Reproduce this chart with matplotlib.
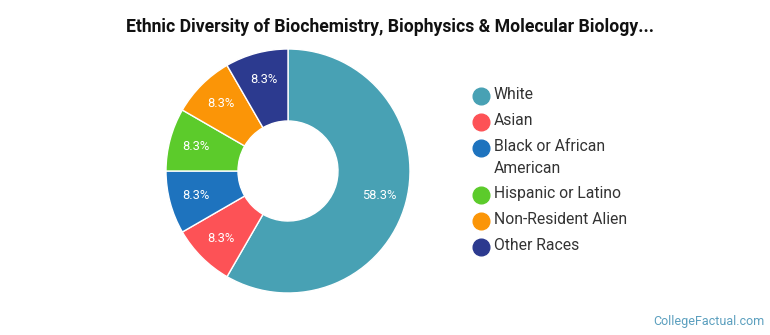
import matplotlib
matplotlib.use('Agg')
import matplotlib.pyplot as plt
from matplotlib.lines import Line2D
import numpy as np

plt.rcParams['font.family'] = ['Roboto', 'DejaVu Sans']

groups = ['White', 'Asian', 'Black or African\nAmerican', 'Hispanic or Latino',
          'Non-Resident Alien', 'Other Races']
counts = [7, 1, 1, 1, 1, 1]
shares = ['58.3%', '8.3%', '8.3%', '8.3%', '8.3%', '8.3%']
palette = ['#48a1b4', '#fd5256', '#1e73be', '#5ccb2b', '#fb9507', '#2c3a8f']

fig = plt.figure(figsize=(7.7, 3.35), dpi=100)
fig.patch.set_facecolor('white')

# pie area: centre (288,171) px, radius ~122 px
ax = fig.add_axes([(288 - 125) / 770, 1 - (171 + 125) / 335, 250 / 770, 250 / 335])
wedges, _ = ax.pie(counts, colors=palette, startangle=90, counterclock=False,
                   radius=122 / 125,
                   wedgeprops=dict(width=72 / 125, edgecolor='white', linewidth=1))
ax.set_aspect('equal')
ax.set_xlim(-1, 1)
ax.set_ylim(-1, 1)

ang = 90.0
tot = sum(counts)
for c, s in zip(counts, shares):
    span = 360.0 * c / tot
    mid = np.deg2rad(ang - span / 2)
    ang -= span
    r = 0.76
    ax.text(r * np.cos(mid), r * np.sin(mid), s, ha='center', va='center',
            color='white', fontsize=9.3)

fig.text(390 / 770, 1 - 27 / 335,
         'Ethnic Diversity of Biochemistry, Biophysics & Molecular Biology...',
         ha='center', va='center', fontsize=12.7, fontweight='bold', color='#111111')

# legend, rows from top
y = 96
for g, col in zip(groups, palette):
    fig.add_artist(Line2D([481 / 770], [1 - y / 335], marker='o', markersize=12,
                          color=col, linestyle='none', transform=fig.transFigure))
    fig.text(494 / 770, 1 - (y - 9) / 335, g, ha='left', va='top', fontsize=11.3,
             color='#333333', linespacing=1.55)
    y += 26 + 21 * g.count('\n')

fig.text(764 / 770, 1 - 321 / 335, 'CollegeFactual.com', ha='right', va='center',
         fontsize=9, color='#5b9fbe')

fig.savefig('out.png', dpi=100, facecolor='white')
